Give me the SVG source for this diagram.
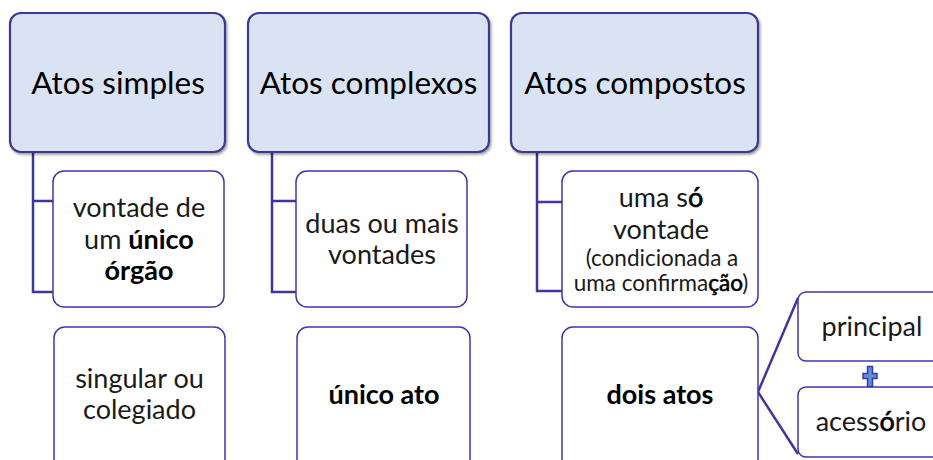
<svg xmlns="http://www.w3.org/2000/svg" width="933" height="460" viewBox="0 0 933 460">
<defs>
<filter id="sh" x="-5%" y="-5%" width="110%" height="115%">
<feDropShadow dx="1.5" dy="2" stdDeviation="1.2" flood-color="#000" flood-opacity="0.35"/>
</filter>
</defs>
<style>
.hdr{fill:#dae3f3;stroke:#3d3792;stroke-width:2.2}
.box{fill:#fff;stroke:#4334ad;stroke-width:1.5}
.con{fill:none;stroke:#3f35a0;stroke-width:2.5}
.ht{font-family:Lato,"Liberation Sans",sans-serif;font-size:31.5px;fill:#000;text-anchor:middle}
.t{font-family:Lato,"Liberation Sans",sans-serif;font-size:27px;fill:#1a1a1a;text-anchor:middle}
.s{font-size:22.5px}
.b{font-weight:bold;fill:#000}
.m{fill:#000;stroke:#000;stroke-width:0.6}
</style>
<rect width="933" height="460" fill="#fff"/>
<g id="connectors">
<path class="con" d="M33 152V292H53M33 201H53"/>
<path class="con" d="M272 152V292H296M272 201H296"/>
<path class="con" d="M537 152V291H562M537 202H562"/>
<path class="con" d="M798 298L758 392L798 454"/>
</g>
<g id="h1"><rect class="hdr" filter="url(#sh)" x="10" y="13" width="215" height="139" rx="11"/><text class="ht" x="118" y="94">Atos simples</text></g>
<g id="h2"><rect class="hdr" filter="url(#sh)" x="248" y="13" width="241" height="139" rx="11"/><text class="ht" x="368.5" y="94">Atos complexos</text></g>
<g id="h3"><rect class="hdr" filter="url(#sh)" x="511" y="13" width="247" height="139" rx="11"/><text class="ht" x="635" y="94">Atos compostos</text></g>
<g id="c1"><rect class="box" x="53" y="171" width="171" height="136" rx="11"/>
<text class="t" x="139" y="217">vontade de</text>
<text class="t" x="139" y="249">um <tspan class="b">único</tspan></text>
<text class="t b" x="139" y="280">órgão</text></g>
<g id="c2"><rect class="box" x="296" y="171" width="171" height="136" rx="11"/>
<text class="t" x="382" y="233">duas ou mais</text>
<text class="t" x="382" y="264">vontades</text></g>
<g id="c3"><rect class="box" x="562" y="171" width="196" height="136" rx="11"/>
<text class="t" x="661" y="207">uma s<tspan class="m">ó</tspan></text>
<text class="t" x="661" y="239">vontade</text>
<text class="t s" x="662" y="266">(condicionada a</text>
<text class="t s" x="661" y="291">uma confirma<tspan class="m">ção</tspan>)</text></g>
<g id="d1"><rect class="box" x="54" y="327" width="171" height="150" rx="11"/>
<text class="t" x="139.5" y="388">singular ou</text>
<text class="t" x="139.5" y="419">colegiado</text></g>
<g id="d2"><rect class="box" x="297" y="327" width="173" height="150" rx="11"/>
<text class="t b" x="384" y="404">único ato</text></g>
<g id="d3"><rect class="box" x="562" y="327" width="196" height="150" rx="11"/>
<text class="t b" x="660" y="404">dois atos</text></g>
<g id="p1"><rect class="box" x="798" y="292" width="170" height="69" rx="8"/>
<text class="t" x="872" y="336">principal</text></g>
<g id="p2"><rect class="box" x="798" y="387" width="170" height="70" rx="8"/>
<text class="t" x="871" y="431">acess<tspan class="m">ó</tspan>rio</text></g>
<g id="plus"><path d="M867.5 366.5h5v7h4.5v5h-4.5v8h-5v-8h-4.5v-5h4.5z" fill="#5b8fd6" stroke="#3b3a9e" stroke-width="1.5"/></g>
</svg>
